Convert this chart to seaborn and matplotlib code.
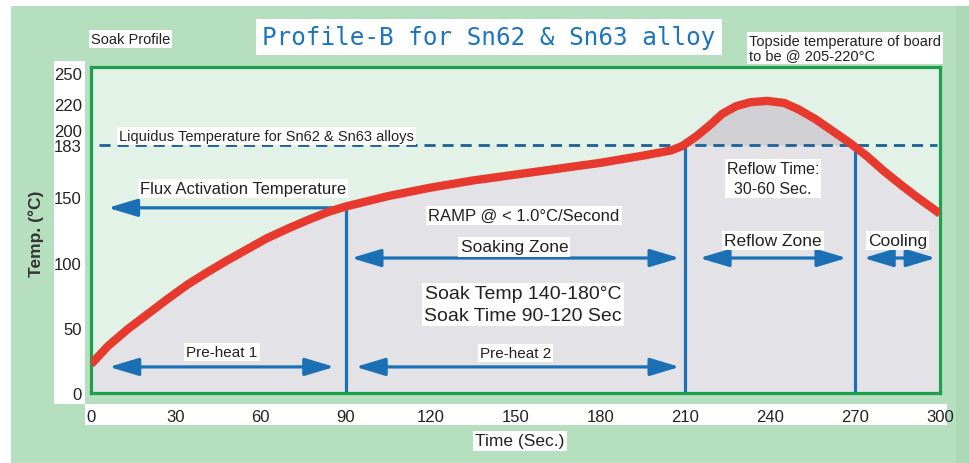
import numpy as np
import pandas as pd
import matplotlib
matplotlib.use("Agg")
import matplotlib.pyplot as plt
from matplotlib.patches import Rectangle
import seaborn as sns

# ---------------- data ----------------
time_s = [0, 6, 13, 20, 27, 34, 41, 48, 55, 62, 70, 77, 84, 90,
          105, 120, 135, 150, 165, 180, 195, 205, 209,
          214, 219, 223, 228, 233, 239, 245, 250, 256, 262, 268,
          274, 280, 286, 292, 300]
temp_c = [22, 36, 49, 60.5, 72, 83, 92.5, 101.5, 110, 118.5, 126.5, 133, 139, 143,
          151, 157.5, 163, 167.5, 172, 176.5, 182, 186, 189.5,
          197, 206, 214, 220, 223, 224, 222.4, 217.5, 210, 201, 192,
          182, 170.5, 160, 150, 137.5]

liquidus_level = 190          # drawn position of the 183 °C liquidus line
zone_times = [90, 210, 270]
zone_tops = [143, 190, 190]

x_ticks = [0, 30, 60, 90, 120, 150, 180, 210, 240, 270, 300]
y_major_pos = [0, 50, 100, 150, 202, 250]
y_major_lab = ["0", "50", "100", "150", "200", "250"]
y_minor_pos = [190, 222]
y_minor_lab = ["183", "220"]

df = pd.DataFrame({"time": time_s, "temp": temp_c})

# ---------------- style ----------------
sns.set_theme(style="white")
plt.rcParams["font.family"] = ["Liberation Sans", "DejaVu Sans"]

BG = "#b6dfc0"
PLOT_BG = "#e2f2e6"
GRAY = "#e3e3e7"
PEAK = "#d0d0d4"
GREEN = "#1d9f4e"
BLUE = "#1a6fb5"
DASH = "#1d5f97"
RED = "#e8392f"
TXT = "#222222"

W, H = 969, 464
fig = plt.figure(figsize=(W / 100, H / 100), dpi=100, facecolor=BG)

def fx(px):
    return px / W

def fy(py):
    return 1 - py / H

# outer white margins & frame
fig.patches.append(Rectangle((0, fy(7)), 1, 7 / H, transform=fig.transFigure,
                             facecolor="white", edgecolor="none", zorder=-5))
fig.patches.append(Rectangle((0, 0), 11 / W, 1, transform=fig.transFigure,
                             facecolor="white", edgecolor="none", zorder=-5))
fig.patches.append(Rectangle((fx(956), 0), 13 / W, fy(7), transform=fig.transFigure,
                             facecolor="#acd8b7", edgecolor="none", zorder=-5))
# white strips behind tick labels
fig.patches.append(Rectangle((fx(54), fy(405)), 31 / W, 343 / H, transform=fig.transFigure,
                             facecolor="white", edgecolor="none", zorder=-4))
fig.patches.append(Rectangle((fx(85), fy(426)), 862 / W, 21 / H, transform=fig.transFigure,
                             facecolor="white", edgecolor="none", zorder=-4))

ax = fig.add_axes([fx(91), fy(394), 849 / W, 326 / H])
ax.set_facecolor(PLOT_BG)

# fills
ax.fill_between(df["time"], 0, df["temp"], color=GRAY, lw=0, zorder=1)
ax.fill_between(df["time"], liquidus_level, df["temp"],
                where=df["temp"] >= liquidus_level, interpolate=True,
                color=PEAK, lw=0, zorder=1.1)

# liquidus dashed line
ax.plot([3, 299], [liquidus_level, liquidus_level], color=DASH, lw=2.0,
        dashes=(4, 2.5), zorder=2)

# zone boundaries
ax.vlines(zone_times, 0, zone_tops, color=BLUE, lw=2.3, zorder=2.5)

# profile curve
sns.lineplot(data=df, x="time", y="temp", ax=ax, color=RED, lw=6,
             solid_joinstyle="round", solid_capstyle="butt", zorder=4)

# arrows
def arrow(x0, x1, y, both=True):
    style = ("<|-|>" if both else "-|>") + ",head_length=0.9,head_width=0.27"
    ax.annotate("", xy=(x0, y), xytext=(x1, y),
                arrowprops=dict(arrowstyle=style, color=BLUE, lw=2.3,
                                mutation_scale=20, shrinkA=0, shrinkB=0),
                zorder=3)

arrow(6, 90, 142, both=False)
arrow(6.4, 86, 20)
arrow(93.5, 208, 20)
arrow(92, 208, 103.5)
arrow(215, 267, 103.5)
arrow(273, 298.5, 103.5)

def label(x, y, s, size=11, ha="center", ls=1.2):
    ax.text(x, y, s, ha=ha, va="center", fontsize=size, color=TXT, linespacing=ls,
            bbox=dict(facecolor="white", edgecolor="none", pad=1.5), zorder=6)

label(53.7, 156.5, "Flux Activation Temperature", 12)
label(46.3, 31.4, "Pre-heat 1", 11)
label(150, 30.5, "Pre-heat 2", 11)
label(153, 136, "RAMP @ < 1.0°C/Second", 12)
label(149.6, 112, "Soaking Zone", 12.5)
label(152.7, 68, "Soak Temp 140-180°C\nSoak Time 90-120 Sec", 14, ls=1.35)
label(241, 164.5, "Reflow Time:\n30-60 Sec.", 11.5, ls=1.35)
label(241, 117, "Reflow Zone", 12.5)
label(285, 117, "Cooling", 12.5)
label(9.9, 197, "Liquidus Temperature for Sn62 & Sn63 alloys", 10.5, ha="left")

# axes cosmetics
ax.set_xlim(0, 300)
ax.set_ylim(0, 250)
for sp in ax.spines.values():
    sp.set_color(GREEN)
    sp.set_linewidth(2.3)
    sp.set_visible(True)

ax.set_xticks(x_ticks)
ax.set_xticklabels([str(v) for v in x_ticks])
ax.set_yticks(y_major_pos)
ax.set_yticklabels(y_major_lab)
ax.set_yticks(y_minor_pos, minor=True)
ax.set_yticklabels(y_minor_lab, minor=True)
ax.tick_params(axis="both", which="major", direction="inout", length=7, width=2,
               color=BLUE, labelsize=12, labelcolor=TXT)
ax.tick_params(axis="x", which="major", pad=8)
ax.tick_params(axis="y", which="major", pad=3)
ax.tick_params(axis="y", which="minor", length=0, labelsize=12, labelcolor=TXT, pad=6.5)
ax.get_yticklabels()[-1].set_verticalalignment("top")
ax.set_xlabel("")
ax.set_ylabel("")

# axis titles
fig.text(fx(520), fy(442), "Time (Sec.)", ha="center", va="center", fontsize=12.5, color=TXT,
         bbox=dict(facecolor="white", edgecolor="none", pad=2))
fig.text(fx(36), fy(234), "Temp. (°C)", ha="center", va="center", rotation=90,
         fontsize=12.5, fontweight="bold", color="#333333")

# header texts
fig.text(fx(489), fy(38), "Profile-B for Sn62 & Sn63 alloy", ha="center", va="center",
         fontsize=17.5, color="#1a75c1", family=["DejaVu Sans Mono"],
         bbox=dict(facecolor="white", edgecolor="none", boxstyle="square,pad=0.25"))
fig.text(fx(91), fy(40), "Soak Profile", ha="left", va="center", fontsize=10.5, color=TXT,
         bbox=dict(facecolor="white", edgecolor="none", pad=1.5))
fig.text(fx(749), fy(49), "Topside temperature of board\nto be @ 205-220°C", ha="left",
         va="center", fontsize=10.5, color=TXT, linespacing=1.0,
         bbox=dict(facecolor="white", edgecolor="none", pad=1.5))

fig.savefig("out.png", dpi=100, facecolor=BG)
